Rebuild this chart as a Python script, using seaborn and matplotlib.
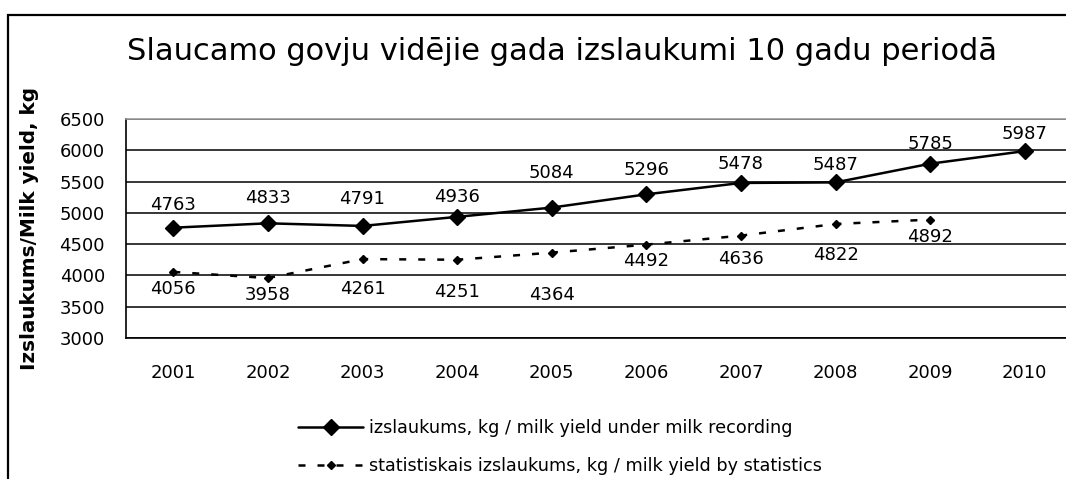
import pandas as pd
import seaborn as sns
import matplotlib.pyplot as plt
from matplotlib.patches import Rectangle

# Daten aus dem Diagramm
gadi = ['2001', '2002', '2003', '2004', '2005', '2006', '2007', '2008', '2009', '2010']
izslaukums = [4763, 4833, 4791, 4936, 5084, 5296, 5478, 5487, 5785, 5987]
stat_izslaukums = [4056, 3958, 4261, 4251, 4364, 4492, 4636, 4822, 4892]

nosaukums = 'Slaucamo govju vidējie gada izslaukumi 10 gadu periodā'
y_nosaukums = 'Izslaukums/Milk yield, kg'
leg1 = 'izslaukums, kg / milk yield under milk recording'
leg2 = 'statistiskais izslaukums, kg / milk yield by statistics'

# vertikale Verschiebung der Beschriftungen (Pixel), wie im Original von Hand verschoben
off1 = [-23, -25, -27, -20, -35, -24, -18.5, -17.5, -20, -16.6]
off2 = [17, 16.5, 30, 32, 42, 16, 23, 31.5, 17]

df1 = pd.DataFrame({'gads': gadi, 'kg': izslaukums})
df2 = pd.DataFrame({'gads': gadi[:len(stat_izslaukums)], 'kg': stat_izslaukums})

sns.set_style('white')
plt.rcParams['font.family'] = ['DejaVu Sans']
plt.rcParams['text.color'] = 'black'
plt.rcParams['xtick.color'] = 'black'
plt.rcParams['ytick.color'] = 'black'

W, H = 1066, 479
fig = plt.figure(figsize=(W / 100, H / 100), dpi=100)
ax = fig.add_axes([126 / W, 1 - 338 / H, 946 / W, 219 / H])

# Rahmen um das ganze Diagramm
fig.patches.append(Rectangle((8 / W, -0.1), 1.2, 1 - 15 / H + 0.1, transform=fig.transFigure,
                             fill=False, edgecolor='black', linewidth=1.6))

sns.lineplot(data=df1, x='gads', y='kg', ax=ax, color='black', linewidth=1.8,
             marker='D', markersize=8, markeredgecolor='black', markeredgewidth=1,
             errorbar=None, label=leg1)
sns.lineplot(data=df2, x='gads', y='kg', ax=ax, color='black', linewidth=1.8,
             linestyle=(0, (2.8, 4.8)), marker='D', markersize=4.5,
             markeredgecolor='black', markeredgewidth=1, errorbar=None, label=leg2)

px = 0.72  # Pixel -> Punkte
for i, v in enumerate(izslaukums):
    ax.annotate(str(v), (i, v), xytext=(0, -off1[i] * px), textcoords='offset points',
                ha='center', va='center', fontsize=13, color='black')
for i, v in enumerate(stat_izslaukums):
    ax.annotate(str(v), (i, v), xytext=(0, -off2[i] * px), textcoords='offset points',
                ha='center', va='center', fontsize=13, color='black')

ax.set_xlim(-0.5, 9.5)
ax.set_ylim(3000, 6500)
ax.set_yticks(range(3000, 6501, 500))
ax.set_xticks(range(len(gadi)))
ax.set_xticks([i - 0.5 for i in range(len(gadi) + 1)], minor=True)
ax.tick_params(axis='x', which='major', length=0, pad=19, labelsize=13, labelcolor='black')
ax.tick_params(axis='x', which='minor', length=5.8, width=1.2, direction='out', color='black')
ax.tick_params(axis='y', length=5.8, width=1.2, direction='out', pad=9.3, labelsize=13,
               color='black', labelcolor='black')
ax.set_xlabel('')
ax.set_ylabel('')

ax.set_axisbelow(True)
ax.grid(axis='y', color='black', linewidth=1.1)
for s in ['left', 'bottom']:
    ax.spines[s].set_color('black')
    ax.spines[s].set_linewidth(1.2)
ax.spines['top'].set_color('#999999')
ax.spines['top'].set_linewidth(1.2)
ax.spines['right'].set_visible(False)

# Titel und Achsenbeschriftung
fig.text(562 / W, 1 - 60 / H, nosaukums, ha='center', va='baseline', fontsize=22, color='black')
fig.text(30 / W, 1 - 228 / H, y_nosaukums, ha='center', va='center', rotation=90,
         fontsize=14.4, fontweight='bold', color='black')

ax.get_legend().remove()
handles, labels = ax.get_legend_handles_labels()
leg = fig.legend(handles, labels, loc='upper left', bbox_to_anchor=(298 / W, 1 - 419 / H),
                 frameon=False, borderpad=0, borderaxespad=0, fontsize=12.7,
                 handlelength=3.7, handletextpad=0.3, labelspacing=1.15)
for t in leg.get_texts():
    t.set_color('black')

plt.savefig('out.png', dpi=100)
